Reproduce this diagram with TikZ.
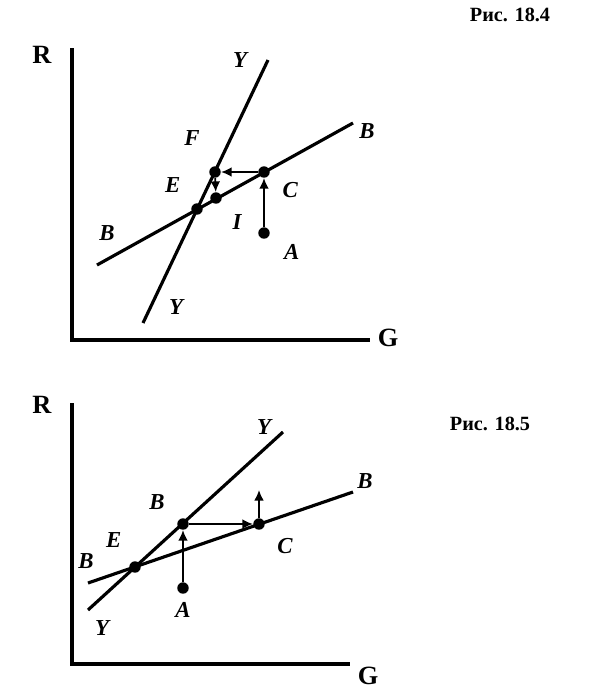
\documentclass[tikz,border=0pt]{standalone}
\usepackage{fontspec}
\setmainfont{Liberation Serif}
\usetikzlibrary{arrows.meta}

\tikzset{
  dot/.style={circle,fill=black,inner sep=2.3pt},
  axis/.style={line width=2pt},
  curve/.style={line width=1.8pt},
  move/.style={line width=1pt,-{Latex[length=6pt,width=5.5pt]}},
  lbl/.style={font=\bfseries\itshape\fontsize{13}{15}\selectfont},
  ax lbl/.style={font=\bfseries\fontsize{15}{17}\selectfont},
  fig lbl/.style={font=\bfseries\fontsize{11.5}{13}\selectfont}
}

\begin{document}
\begin{tikzpicture}[x=0.02cm,y=-0.02cm]
  \useasboundingbox (0,0) rectangle (616,694);

  % Fig. 18.4
  \node[fig lbl] (fig1) at (510,15) {Рис. 18.4};
  \coordinate (o1) at (72,340);
  \coordinate (r1) at (72,48);
  \coordinate (g1) at (370,340);
  \draw[axis] (r1) -- (o1) -- (g1);
  \node[ax lbl] (R1) at (42,55) {R};
  \node[ax lbl] (G1) at (388,338) {G};

  \coordinate (y1a) at (143,323);
  \coordinate (y1b) at (268,60);
  \coordinate (b1a) at (97,265);
  \coordinate (b1b) at (353,123);
  \draw[curve] (y1a) -- (y1b);
  \draw[curve] (b1a) -- (b1b);
  \node[lbl] (Y1t) at (240,60) {Y};
  \node[lbl] (Y1b) at (176,307) {Y};
  \node[lbl] (B1l) at (107,233) {B};
  \node[lbl] (B1r) at (367,131) {B};

  \node[dot,label={[lbl,label distance=5pt]135:E}] (E1) at (197,209) {};
  \node[dot,label={[lbl,label distance=9pt]115:F}] (F1) at (215,172) {};
  \node[dot,label={[lbl,label distance=4pt]-20:C}] (C1) at (264,172) {};
  \node[dot,label={[lbl,label distance=5pt]-45:I}] (I1) at (216,198) {};
  \node[dot,label={[lbl,label distance=5pt]-20:A}] (A1) at (264,233) {};
  \draw[move] (A1) -- (C1);
  \draw[move] (C1) -- (F1);
  \draw[move] (F1) -- (I1);

  % Fig. 18.5
  \node[fig lbl] (fig2) at (490,424) {Рис. 18.5};
  \coordinate (o2) at (72,664);
  \coordinate (r2) at (72,403);
  \coordinate (g2) at (350,664);
  \draw[axis] (r2) -- (o2) -- (g2);
  \node[ax lbl] (R2) at (42,405) {R};
  \node[ax lbl] (G2) at (368,676) {G};

  \coordinate (y2a) at (88,610);
  \coordinate (y2b) at (283,432);
  \coordinate (b2a) at (88,583);
  \coordinate (b2b) at (353,492);
  \draw[curve] (y2a) -- (y2b);
  \draw[curve] (b2a) -- (b2b);
  \node[lbl] (Y2t) at (264,427) {Y};
  \node[lbl] (Y2b) at (102,628) {Y};
  \node[lbl] (B2l) at (86,561) {B};
  \node[lbl] (B2r) at (365,481) {B};

  \node[dot,label={[lbl,label distance=5pt]120:E}] (E2) at (135,567) {};
  \node[dot,label={[lbl,label distance=5pt]145:B}] (B2) at (183,524) {};
  \node[dot,label={[lbl,label distance=5pt]-35:C}] (C2) at (259,524) {};
  \node[dot,label={[lbl,label distance=1pt]-90:A}] (A2) at (183,588) {};
  \coordinate (up2) at (259,490);
  \draw[move] (A2) -- (B2);
  \draw[move] (B2) -- (C2);
  \draw[move] (C2) -- (up2);
\end{tikzpicture}
\end{document}
